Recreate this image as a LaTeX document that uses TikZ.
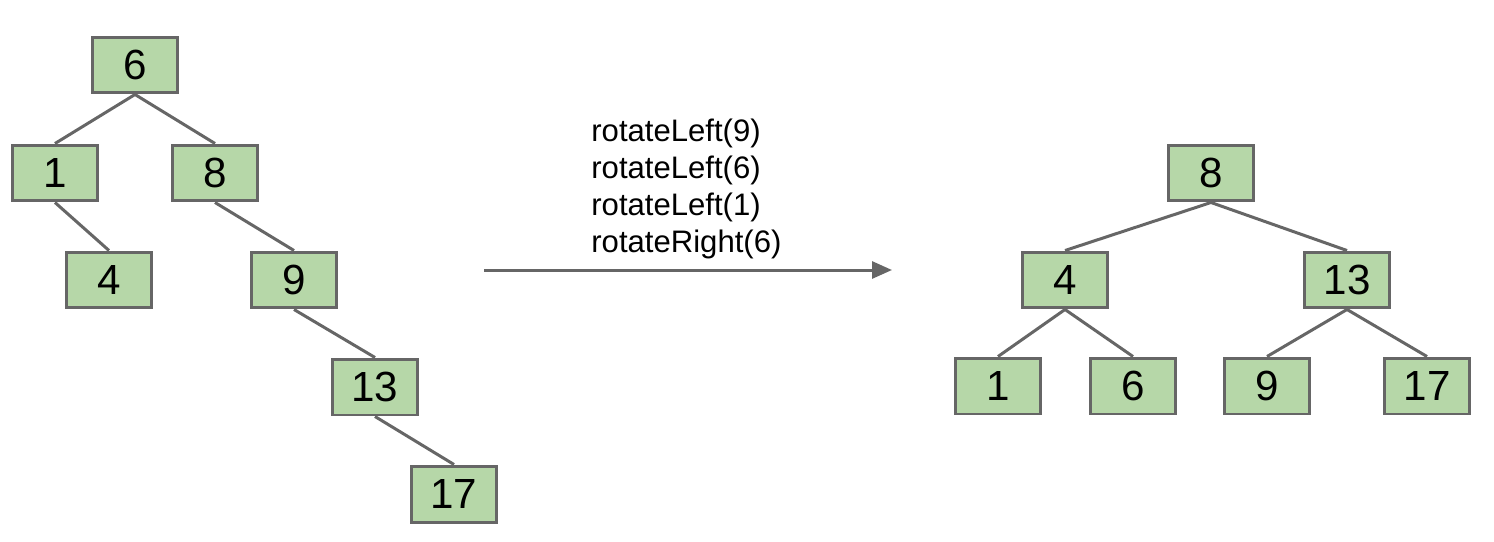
\documentclass[tikz,border=0pt]{standalone}
\usepackage{fontspec}
\setmainfont{Liberation Sans}
\usetikzlibrary{arrows.meta}
\definecolor{boxgreen}{HTML}{B6D7A8}
\definecolor{linegray}{HTML}{666666}

\begin{document}
\begin{tikzpicture}[x=0.02cm,y=-0.02cm,
    box/.style={draw=linegray,fill=boxgreen,line width=0.06cm,minimum width=1.7cm,minimum height=1.12cm,inner sep=0pt,font=\fontsize{24}{24}\selectfont},
    op/.style={anchor=base west,inner sep=0pt,font=\fontsize{17.7}{20}\selectfont},
    tree/.style={draw=linegray,line width=0.06cm}]
   \useasboundingbox (0,0) rectangle (1494,541);
   % before
   \node[box] (a6)  at (135,65)  {6};
   \node[box] (a1)  at (55,173)  {1};
   \node[box] (a8)  at (215,173) {8};
   \node[box] (a4)  at (109,280) {4};
   \node[box] (a9)  at (294,280) {9};
   \node[box] (a13) at (375,387) {13};
   \node[box] (a17) at (454,494) {17};
    \path[tree]
    (a6.south) -- (a1.north)
    (a6.south) -- (a8.north)
    (a1.south) -- (a4.north)
    (a8.south) -- (a9.north)
    (a9.south) -- (a13.north)
    (a13.south) -- (a17.north);
   % rotations
   \node[op] (op1) at (591,141) {rotateLeft(9)};
   \node[op] (op2) at (591,178) {rotateLeft(6)};
   \node[op] (op3) at (591,215) {rotateLeft(1)};
   \node[op] (op4) at (591,252) {rotateRight(6)};
   \coordinate (from) at (484,270);
   \coordinate (to) at (892,270);
   \draw[linegray,line width=0.06cm,-{Triangle[length=0.4cm,width=0.34cm]}] (from) -- (to);
   % after
   \node[box] (b8)  at (1211,173) {8};
   \node[box] (b4)  at (1065,280) {4};
   \node[box] (b13) at (1347,280) {13};
   \node[box] (b1)  at (998,386)  {1};
   \node[box] (b6)  at (1133,386) {6};
   \node[box] (b9)  at (1267,386) {9};
   \node[box] (b17) at (1427,386) {17};
    \path[tree]
    (b8.south) -- (b4.north)
    (b8.south) -- (b13.north)
    (b4.south) -- (b1.north)
    (b4.south) -- (b6.north)
    (b13.south) -- (b9.north)
    (b13.south) -- (b17.north);
\end{tikzpicture}
\end{document}
